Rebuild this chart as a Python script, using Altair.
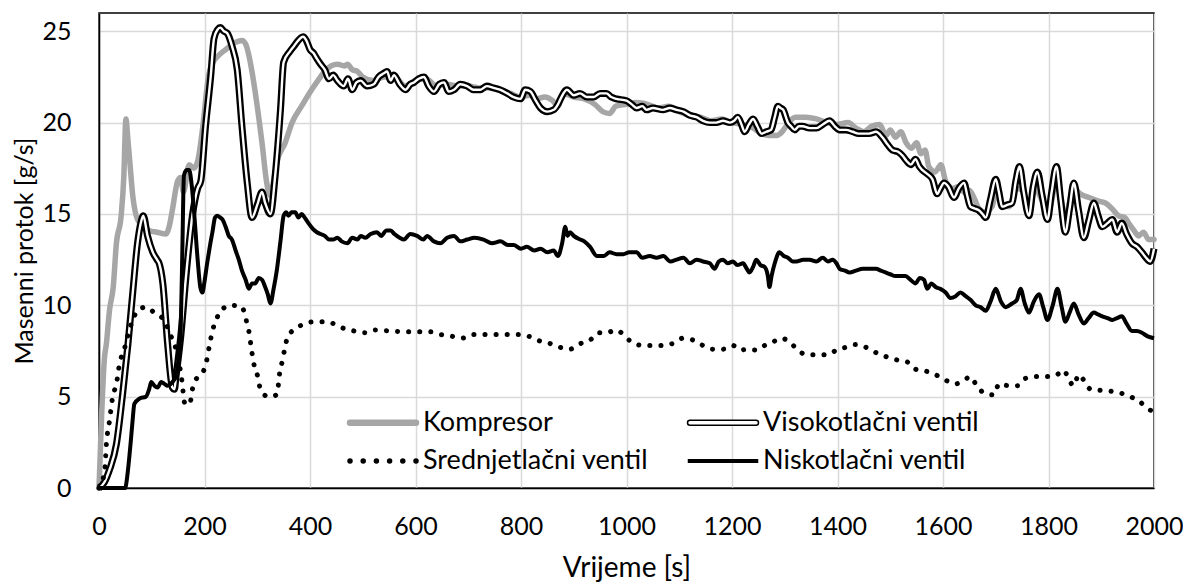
import altair as alt
import pandas as pd

SERIES = ["Kompresor", "Visokotlačni ventil", "Srednjetlačni ventil", "Niskotlačni ventil"]
# legend fills columns first: column 1 = Kompresor / Srednjetlačni, column 2 = Visokotlačni / Niskotlačni
LEGEND_ORDER = ["Kompresor", "Srednjetlačni ventil", "Visokotlačni ventil", "Niskotlačni ventil"]
X_TICKS = list(range(0, 2001, 200))
Y_TICKS = [0, 5, 10, 15, 20, 25]

# Kompresor
k_t = [0, 5, 10, 14, 20, 27, 33, 42, 47, 51, 55, 58, 64, 73, 85, 95, 110, 127, 133, 139, 149, 155, 160, 171, 180, 188,
       196, 208, 216, 224, 240, 259, 271, 278, 284, 290, 296, 309, 318, 325, 331, 337, 353, 366, 384, 403, 415, 428,
       440, 452, 465, 471, 480, 490, 500, 520, 540, 560, 580, 600, 620, 640, 660, 680, 700, 720, 740, 760, 780, 800,
       815, 830, 845, 860, 870, 880, 900, 920, 940, 955, 968, 980, 1000, 1019, 1040, 1060, 1080, 1100, 1120, 1140,
       1160, 1180, 1200, 1220, 1240, 1256, 1270, 1285, 1295, 1305, 1320, 1340, 1360, 1380, 1400, 1420, 1435, 1450,
       1465, 1480, 1492, 1500, 1510, 1520, 1530, 1540, 1550, 1558, 1566, 1573, 1585, 1596, 1605, 1618, 1630, 1640,
       1650, 1660, 1668, 1680, 1693, 1700, 1712, 1725, 1740, 1750, 1763, 1775, 1790, 1800, 1815, 1832, 1848, 1860,
       1877, 1895, 1908, 1920, 1933, 1945, 1952, 1962, 1971, 1980, 1990, 2000]
k_v = [0, 4.0, 7.0, 7.9, 9.75, 11.0, 13.4, 14.9, 17.0, 20.2, 19.0, 18.0, 16.0, 14.7, 14.3, 14.1, 14.0, 13.9, 14.3,
       15.2, 16.8, 17.0, 16.2, 17.7, 17.5, 18.0, 19.6, 22.6, 23.3, 23.6, 24.0, 24.4, 24.5, 24.3, 23.7, 22.8, 21.7,
       18.9, 16.7, 16.0, 16.8, 17.8, 18.9, 20.0, 20.9, 21.8, 22.3, 22.8, 23.1, 23.2, 23.1, 23.2, 22.9, 22.8, 22.5,
       22.3, 22.5, 22.5, 22.0, 22.3, 22.4, 22.0, 22.1, 22.0, 22.0, 21.9, 21.9, 21.8, 21.6, 21.4, 21.5, 21.3, 21.4,
       21.2, 20.9, 21.6, 21.4, 21.3, 21.0, 20.6, 20.5, 20.9, 21.0, 21.1, 21.0, 20.8, 20.9, 20.6, 20.4, 20.3, 20.1,
       20.2, 20.0, 19.9, 19.7, 19.4, 19.3, 19.3, 19.5, 19.9, 20.3, 20.3, 20.2, 20.0, 19.9, 20.0, 19.7, 19.5, 19.8,
       19.9, 19.3, 19.6, 19.2, 19.5, 18.9, 18.6, 18.9, 18.3, 18.5, 17.6, 17.3, 17.7, 16.8, 16.4, 16.5, 16.2, 16.3,
       15.8, 15.3, 15.1, 15.4, 16.1, 15.5, 15.4, 16.4, 16.3, 15.1, 16.4, 15.6, 15.2, 16.7, 14.9, 16.4, 16.1, 15.9,
       15.7, 15.6, 15.3, 14.9, 14.8, 14.5, 14.1, 13.8, 14.0, 13.6, 13.6]

# Visokotlačni ventil
v_t = [0, 10, 20, 33, 45, 55, 64, 73, 80, 84, 92, 102, 110, 114, 121, 130, 139, 143, 146, 155, 165, 177, 187, 193,
       202, 212, 218, 225, 230, 237, 243, 252, 262, 271, 281, 290, 300, 309, 315, 325, 334, 344, 350, 362, 370, 375,
       387, 393, 400, 407, 413, 420, 428, 436, 444, 452, 464, 472, 480, 488, 496, 508, 521, 530, 540, 546, 553, 559,
       570, 581, 590, 597, 606, 616, 625, 635, 645, 654, 663, 673, 685, 698, 710, 723, 735, 748, 760, 774, 786, 799,
       808, 818, 828, 837, 850, 862, 870, 875, 887, 900, 912, 925, 938, 950, 962, 971, 981, 1000, 1010, 1019, 1030,
       1038, 1050, 1069, 1082, 1095, 1108, 1120, 1133, 1145, 1158, 1170, 1183, 1196, 1204, 1211, 1218, 1224, 1232,
       1240, 1248, 1256, 1265, 1274, 1281, 1287, 1292, 1297, 1306, 1312, 1319, 1327, 1334, 1347, 1360, 1372, 1385,
       1395, 1404, 1416, 1429, 1440, 1448, 1460, 1473, 1485, 1495, 1504, 1515, 1523, 1531, 1539, 1548, 1555, 1561,
       1570, 1580, 1589, 1595, 1602, 1610, 1621, 1630, 1640, 1646, 1652, 1660, 1668, 1675, 1681, 1690, 1700, 1706,
       1712, 1722, 1731, 1738, 1745, 1753, 1763, 1771, 1779, 1788, 1798, 1806, 1815, 1823, 1832, 1840, 1848, 1857,
       1867, 1876, 1886, 1894, 1902, 1912, 1921, 1930, 1939, 1948, 1958, 1968, 1977, 1985, 1993, 2000]
v_v = [0, 0.3, 1.0, 2.4, 5.2, 7.9, 10.7, 13.4, 14.6, 14.9, 13.8, 12.9, 12.5, 12.3, 11.2, 7.9, 5.5, 5.4, 6.1, 8.3,
       11.6, 14.9, 16.4, 16.8, 19.8, 22.6, 24.6, 25.1, 25.2, 25.0, 24.9, 24.2, 22.9, 19.8, 16.7, 14.8, 15.5, 16.2,
       15.6, 15.0, 17.1, 20.7, 23.3, 23.9, 24.2, 24.4, 24.7, 24.5, 24.0, 23.8, 23.5, 23.2, 22.9, 22.4, 22.6, 22.3,
       22.0, 22.4, 21.8, 22.2, 22.3, 22.0, 22.1, 22.5, 22.7, 22.8, 22.3, 22.6, 22.1, 21.8, 22.1, 22.2, 22.4, 22.5,
       22.0, 21.7, 22.1, 22.2, 21.7, 21.8, 22.1, 22.0, 21.8, 21.8, 22.0, 21.9, 21.8, 21.6, 21.4, 21.3, 21.8, 21.7,
       21.2, 20.8, 20.6, 20.7, 21.0, 21.3, 21.8, 21.5, 21.6, 21.4, 21.4, 21.6, 21.6, 21.4, 21.3, 21.2, 21.0, 20.8,
       20.9, 20.7, 20.8, 20.7, 20.8, 20.7, 20.6, 20.4, 20.3, 20.1, 20.0, 20.0, 20.1, 20.0, 20.1, 20.3, 19.9, 19.5,
       19.9, 20.2, 19.8, 19.4, 19.5, 19.6, 20.3, 20.9, 20.8, 20.7, 20.0, 19.8, 19.6, 19.8, 19.8, 19.7, 19.7, 19.9,
       20.1, 19.8, 19.6, 19.6, 19.5, 19.4, 19.4, 19.4, 19.5, 19.2, 18.8, 18.5, 18.4, 18.2, 17.9, 17.7, 18.0, 17.6,
       17.4, 17.2, 16.9, 16.1, 16.4, 16.7, 16.5, 15.9, 16.4, 16.7, 16.0, 15.4, 15.3, 15.2, 15.0, 14.8, 15.8, 16.9,
       16.2, 15.4, 15.5, 15.6, 16.8, 17.6, 16.2, 14.9, 16.5, 17.3, 16.0, 14.7, 16.2, 17.6, 15.8, 14.0, 15.3, 16.7,
       15.2, 13.7, 14.6, 15.6, 14.9, 14.3, 14.5, 14.7, 14.0, 14.5, 13.9, 13.4, 13.2, 12.9, 12.6, 12.4, 13.1]

# Srednjetlačni ventil
s_t = [0, 5, 11, 14, 20, 26, 33, 39, 48, 58, 64, 73, 89, 105, 117, 127, 133, 143, 152, 157, 163, 172, 177, 183, 193,
       202, 210, 216, 222, 234, 252, 271, 279, 284, 290, 295, 301, 306, 321, 337, 343, 348, 352, 358, 372, 391, 409,
       428, 444, 458, 483, 505, 521, 550, 584, 628, 647, 670, 688, 710, 748, 792, 815, 830, 856, 874, 893, 912, 931,
       947, 962, 981, 994, 1009, 1032, 1069, 1091, 1107, 1126, 1145, 1164, 1183, 1202, 1215, 1230, 1246, 1262, 1278,
       1293, 1309, 1325, 1341, 1363, 1382, 1398, 1416, 1435, 1454, 1470, 1491, 1514, 1532, 1548, 1567, 1586, 1605,
       1624, 1640, 1652, 1662, 1678, 1697, 1706, 1725, 1741, 1756, 1775, 1801, 1816, 1829, 1839, 1848, 1857, 1867,
       1880, 1898, 1917, 1936, 1955, 1974, 1990, 2000]
s_v = [0, 0.3, 1.0, 2.4, 3.7, 5.0, 5.7, 6.8, 7.6, 8.7, 9.2, 9.7, 9.9, 9.6, 9.4, 9.0, 8.5, 7.9, 6.8, 5.9, 4.6, 4.6,
       5.4, 5.9, 6.2, 6.7, 7.9, 8.7, 9.2, 9.8, 10.0, 9.9, 9.2, 8.6, 7.4, 6.6, 6.1, 5.4, 5.0, 5.1, 6.4, 7.0, 7.6, 8.3,
       8.7, 9.0, 9.1, 9.1, 9.0, 8.8, 8.6, 8.5, 8.65, 8.6, 8.55, 8.55, 8.4, 8.3, 8.2, 8.4, 8.4, 8.4, 8.3, 8.1, 7.9,
       7.7, 7.6, 7.9, 8.1, 8.5, 8.5, 8.65, 8.4, 8.0, 7.8, 7.8, 7.95, 8.2, 8.1, 7.8, 7.6, 7.6, 7.8, 7.55, 7.6, 7.55,
       7.8, 8.0, 8.2, 8.0, 7.55, 7.3, 7.3, 7.3, 7.55, 7.7, 7.85, 7.7, 7.45, 7.2, 7.0, 6.9, 6.5, 6.4, 6.2, 5.9, 5.7,
       5.9, 6.1, 5.7, 5.2, 5.1, 5.7, 5.6, 5.6, 6.0, 6.1, 6.1, 6.2, 6.45, 5.9, 5.6, 6.2, 5.9, 5.4, 5.35, 5.3, 5.2,
       5.0, 4.7, 4.3, 4.2]

# Niskotlačni ventil
n_t = [0, 50, 52, 55, 61, 64, 67, 77, 89, 95, 99, 105, 111, 118, 124, 130, 136, 142, 146, 152, 155, 158, 161, 166,
       171, 176, 180, 187, 192, 196, 200, 205, 210, 215, 220, 224, 230, 234, 240, 246, 252, 259, 265, 271, 278, 284,
       290, 296, 303, 309, 315, 320, 325, 331, 337, 344, 350, 355, 359, 365, 372, 378, 384, 390, 397, 405, 413, 420,
       428, 436, 444, 452, 460, 471, 480, 490, 496, 505, 515, 527, 535, 545, 553, 560, 570, 578, 590, 603, 615, 622,
       635, 647, 660, 673, 685, 698, 712, 729, 745, 761, 775, 786, 800, 811, 825, 837, 850, 862, 870, 878, 884, 888,
       893, 900, 912, 920, 931, 944, 957, 968, 981, 994, 1005, 1019, 1030, 1044, 1057, 1070, 1083, 1095, 1108, 1120,
       1133, 1145, 1158, 1167, 1175, 1183, 1192, 1202, 1210, 1221, 1228, 1233, 1240, 1246, 1254, 1262, 1268, 1271,
       1275, 1281, 1290, 1298, 1306, 1315, 1322, 1335, 1347, 1360, 1372, 1382, 1391, 1398, 1404, 1414, 1423, 1435,
       1448, 1460, 1473, 1482, 1491, 1500, 1510, 1520, 1529, 1538, 1548, 1556, 1564, 1570, 1578, 1586, 1595, 1605,
       1614, 1624, 1633, 1643, 1652, 1662, 1671, 1681, 1690, 1700, 1710, 1719, 1731, 1740, 1747, 1755, 1763, 1772,
       1782, 1790, 1798, 1808, 1817, 1825, 1832, 1840, 1848, 1857, 1867, 1876, 1886, 1894, 1902, 1912, 1921, 1930,
       1939, 1948, 1958, 1968, 1977, 1988, 2000]
n_v = [0, 0, 0.3, 1.0, 2.8, 3.8, 4.6, 4.9, 5.0, 5.4, 5.8, 5.6, 5.5, 5.8, 5.7, 5.6, 5.7, 5.9, 6.1, 7.5, 8.8, 13.0,
       17.1, 17.4, 17.4, 16.5, 15.2, 12.5, 11.0, 10.7, 11.3, 12.3, 13.2, 14.0, 14.8, 14.9, 14.8, 14.7, 14.3, 13.8,
       13.6, 13.0, 12.5, 11.9, 11.4, 10.9, 11.2, 11.2, 11.5, 11.4, 11.0, 10.6, 10.1, 10.9, 11.9, 13.5, 14.9, 15.1,
       14.9, 15.1, 15.1, 14.8, 15.0, 14.8, 14.5, 14.2, 14.0, 13.9, 13.8, 13.6, 13.6, 13.7, 13.5, 13.4, 13.7, 13.6,
       13.8, 13.7, 13.9, 14.0, 13.8, 14.1, 14.1, 13.9, 13.7, 13.6, 13.9, 13.8, 13.6, 13.8, 13.5, 13.4, 13.7, 13.8,
       13.5, 13.6, 13.7, 13.6, 13.4, 13.5, 13.3, 13.3, 13.1, 13.2, 13.0, 13.1, 12.9, 13.0, 12.7, 13.4, 14.3, 13.8,
       14.0, 13.8, 13.6, 13.5, 13.2, 12.7, 12.7, 12.9, 12.8, 12.8, 12.9, 12.9, 12.6, 12.7, 12.6, 12.7, 12.4, 12.5,
       12.6, 12.3, 12.5, 12.4, 12.3, 12.0, 12.4, 12.5, 12.3, 12.4, 12.2, 12.3, 12.0, 11.8, 12.1, 12.5, 12.2, 12.1,
       11.6, 11.0, 11.6, 12.3, 12.9, 12.7, 12.6, 12.4, 12.4, 12.5, 12.5, 12.4, 12.6, 12.4, 12.5, 12.3, 12.0, 11.9,
       11.8, 11.9, 12.0, 12.0, 12.0, 11.9, 11.8, 11.7, 11.6, 11.6, 11.6, 11.4, 11.2, 11.5, 11.4, 10.9, 11.2, 11.0,
       10.9, 10.7, 10.4, 10.5, 10.7, 10.5, 10.3, 10.0, 9.9, 9.7, 10.2, 10.9, 10.2, 9.9, 10.1, 10.3, 10.9, 10.1, 9.6,
       10.2, 10.6, 9.9, 9.2, 10.0, 10.9, 9.9, 9.1, 9.6, 10.1, 9.5, 9.0, 9.3, 9.6, 9.5, 9.4, 9.3, 9.2, 9.3, 9.4, 9.0,
       8.6, 8.6, 8.5, 8.3, 8.2]


def frame(name, t, v):
    return pd.DataFrame({"t": t, "v": v, "series": name})


df = pd.concat([
    frame(SERIES[0], k_t, k_v),
    frame(SERIES[1], v_t, v_v),
    frame(SERIES[2], s_t, s_v),
    frame(SERIES[3], n_t, n_v),
], ignore_index=True)
legend_df = pd.DataFrame({"series": LEGEND_ORDER})

FONT = "Lato"
GRAY = "#a6a6a6"
BLACK = "#000000"
WHITE = "#ffffff"

# legend symbols (custom paths, unit = sqrt(symbolSize)/2 px)
bar_round = "M-0.75,-0.25H5.85A0.25,0.25 0 0 1 5.85,0.25H-0.75A0.25,0.25 0 0 1 -0.75,-0.25Z"
dots = "".join(
    f"M{cx - 0.2:.2f},0a0.2,0.2 0 1,0 0.4,0a0.2,0.2 0 1,0 -0.4,0"
    for cx in [-0.75, 0.57, 1.89, 3.21, 4.53, 5.85]
)
bar_thin = "M-0.9,-0.12H6V0.12H-0.9Z"

STYLE = {
    "Kompresor": (GRAY, GRAY, bar_round),
    "Visokotlačni ventil": (BLACK, WHITE, bar_round),
    "Srednjetlačni ventil": (BLACK, BLACK, dots),
    "Niskotlačni ventil": (BLACK, BLACK, bar_thin),
}

leg = alt.Legend(title=None, symbolFillColor=WHITE)

stroke_enc = alt.Stroke("series:N",
                        scale=alt.Scale(domain=LEGEND_ORDER, range=[STYLE[s][0] for s in LEGEND_ORDER]),
                        legend=leg)

proxy = alt.Chart(legend_df).mark_point(opacity=0).encode(
    shape=alt.Shape("series:N",
                    scale=alt.Scale(domain=LEGEND_ORDER, range=[STYLE[s][2] for s in LEGEND_ORDER]),
                    legend=leg),
    fill=alt.Fill("series:N",
                  scale=alt.Scale(domain=LEGEND_ORDER, range=[STYLE[s][1] for s in LEGEND_ORDER]),
                  legend=leg),
    stroke=stroke_enc,
)

x_enc = alt.X("t:Q", scale=alt.Scale(domain=[0, 2000], nice=False, zero=False),
              axis=alt.Axis(values=X_TICKS, format="d", title="Vrijeme [s]", labelPadding=26, labelFlush=False,
                            titlePadding=15, titleFontSize=28))
y_enc = alt.Y("v:Q", scale=alt.Scale(domain=[0, 26], nice=False),
              axis=alt.Axis(values=Y_TICKS, format="d", title="Masenni protok [g/s]", labelPadding=28,
                            labelFlush=False, titlePadding=4, titleFontSize=25))

base = alt.Chart(df).encode(x=x_enc, y=y_enc)


def sel(name):
    return base.transform_filter(alt.datum.series == name)


line_k = sel(SERIES[0]).mark_line(strokeWidth=5.5, strokeJoin="round", strokeCap="round",
                                  interpolate="monotone").encode(stroke=stroke_enc)
line_v_out = sel(SERIES[1]).mark_line(strokeWidth=7, strokeJoin="round",
                                      interpolate="monotone").encode(stroke=stroke_enc)
line_v_in = sel(SERIES[1]).mark_line(strokeWidth=2.4, strokeJoin="round", stroke=WHITE, interpolate="monotone")
line_s = sel(SERIES[2]).mark_line(strokeWidth=5, strokeDash=[0.1, 11], strokeCap="round",
                                  interpolate="monotone").encode(stroke=stroke_enc)
line_n = sel(SERIES[3]).mark_line(strokeWidth=4, strokeJoin="round",
                                  interpolate="monotone").encode(stroke=stroke_enc)

chart = alt.layer(proxy, line_k, line_v_out, line_v_in, line_s, line_n).properties(
    width=1055, height=475,
    autosize=alt.AutoSizeParams(type="none"),
    padding={"left": 91, "top": 5, "right": 29, "bottom": 95},
).configure_view(
    stroke=BLACK, strokeWidth=1.5
).configure_axis(
    labelFont=FONT, titleFont=FONT, labelFontSize=25, titleFontWeight="normal",
    labelColor=BLACK, titleColor=BLACK,
    domainColor=BLACK, domainWidth=1.5, ticks=False,
    gridColor="#d9d9d9", gridWidth=1.5,
).configure_legend(
    orient="none", legendX=245, legendY=396, columns=2, padding=0,
    labelFont=FONT, labelFontSize=27, labelColor=BLACK, labelLimit=500,
    symbolSize=400, symbolStrokeWidth=1.5, symbolOpacity=1, labelOffset=52,
    rowPadding=10.5, columnPadding=35,
)

chart.save("out.html", embed_options={"renderer": "svg", "actions": False})
